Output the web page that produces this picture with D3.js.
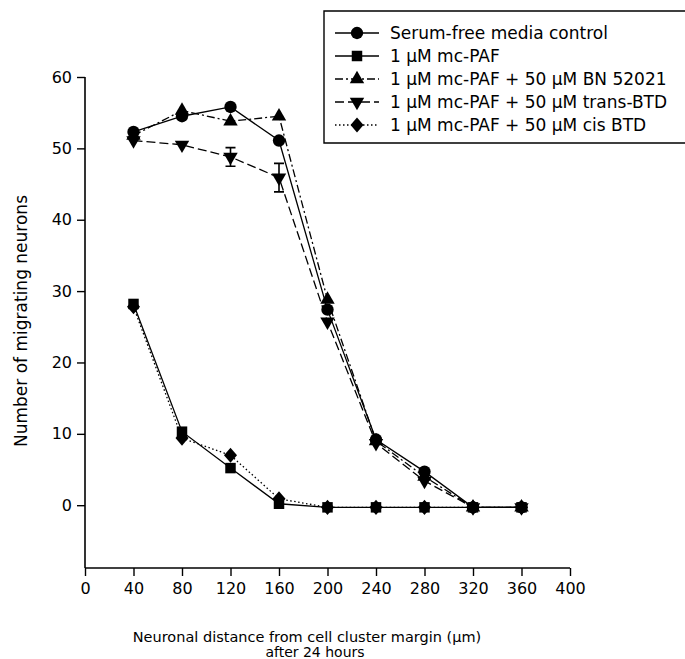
<!DOCTYPE html>
<html>
<head>
<meta charset="utf-8">
<script src="https://cdn.jsdelivr.net/npm/d3@7/dist/d3.min.js"></script>
<style>
  body { margin: 0; background: #fff; }
  svg { font-family: "DejaVu Sans", Arial, sans-serif; }
</style>
</head>
<body>
<div id="canvas"></div>
<script>
// distances (µm)
const distances = [40, 80, 120, 160, 200, 240, 280, 320, 360];
const xTicks = [0, 40, 80, 120, 160, 200, 240, 280, 320, 360, 400];
const yTicks = [0, 10, 20, 30, 40, 50, 60];

const seriesNames = [
  "Serum-free media control",
  "1 µM mc-PAF",
  "1 µM mc-PAF + 50 µM BN 52021",
  "1 µM mc-PAF + 50 µM trans-BTD",
  "1 µM mc-PAF + 50 µM cis BTD"
];
const control = [52.3, 54.5, 55.8, 51.1, 27.4, 9.2, 4.7, -0.3, -0.3];
const mcPaf = [28.2, 10.3, 5.2, 0.2, -0.3, -0.3, -0.3, -0.3, -0.3];
const bn52021 = [51.8, 55.3, 53.8, 54.5, 28.8, 9.0, 4.0, -0.3, -0.3];
const transBtd = [51.1, 50.5, 48.8, 45.9, 25.7, 8.7, 3.4, -0.3, -0.3];
const transErr = [0, 0, 1.3, 2.0, 0, 0, 0, 0, 0];
const cisBtd = [27.8, 9.4, 7.0, 0.9, -0.3, -0.3, -0.3, -0.3, -0.3];

const width = 685, height = 659;
const svg = d3.select("#canvas").append("svg")
  .attr("width", width).attr("height", height);

const x = d3.scaleLinear().domain([0, 400]).range([85, 570]);
const y = d3.scaleLinear().domain([-8.8, 60]).range([568, 77]);

// wider diamond than d3's default
const wideDiamond = {
  draw(ctx, size) {
    const w = Math.sqrt(size) * 0.62, h = Math.sqrt(size) * 0.72;
    ctx.moveTo(0, -h); ctx.lineTo(w, 0); ctx.lineTo(0, h); ctx.lineTo(-w, 0); ctx.closePath();
  }
};

const series = [
  { name: seriesNames[0], values: control, symbol: d3.symbolCircle, size: 120, dash: null },
  { name: seriesNames[1], values: mcPaf, symbol: d3.symbolSquare, size: 110, dash: null },
  { name: seriesNames[2], values: bn52021, symbol: d3.symbolTriangle, size: 90, dash: "8,3,2,3" },
  { name: seriesNames[3], values: transBtd, symbol: "down", size: 90, dash: "9,4" },
  { name: seriesNames[4], values: cisBtd, symbol: wideDiamond, size: 110, dash: "1.5,2.5" }
];

function marker(g, s) {
  if (s.symbol === "down") {
    g.append("path").attr("d", d3.symbol(d3.symbolTriangle, s.size)())
      .attr("transform", "rotate(180)").attr("fill", "#000");
  } else {
    g.append("path").attr("d", d3.symbol(s.symbol, s.size)()).attr("fill", "#000");
  }
}

// axes
const xAxis = svg.append("g").attr("transform", `translate(0,568)`)
  .call(d3.axisBottom(x).tickValues(xTicks).tickSize(8).tickPadding(7).tickFormat(d3.format("d")));
const yAxis = svg.append("g").attr("transform", `translate(85,0)`)
  .call(d3.axisLeft(y).tickValues(yTicks).tickSize(8).tickPadding(5).tickFormat(d3.format("d")));
[xAxis, yAxis].forEach(a => {
  a.select(".domain").attr("stroke", "#000").attr("stroke-width", 1.6)
    .attr("d", a === xAxis ? "M85,0H570" : "M0,77V568");
  a.selectAll(".tick line").attr("stroke", "#000").attr("stroke-width", 1.4);
  a.selectAll(".tick text").attr("fill", "#000").style("font-size", "16px")
    .style("font-family", "'DejaVu Sans', Arial, sans-serif");
});

// lines
const line = d3.line().x((d, i) => x(distances[i])).y(d => y(d));
series.forEach(s => {
  svg.append("path").datum(s.values)
    .attr("d", line).attr("fill", "none").attr("stroke", "#000")
    .attr("stroke-width", 1.3)
    .attr("stroke-dasharray", s.dash);
});

// error bars (trans-BTD)
distances.forEach((d, i) => {
  if (!transErr[i]) return;
  const cx = x(d), top = y(transBtd[i] + transErr[i]), bot = y(transBtd[i] - transErr[i]);
  svg.append("path").attr("d", `M${cx},${top}V${bot}M${cx - 5},${top}H${cx + 5}M${cx - 5},${bot}H${cx + 5}`)
    .attr("stroke", "#000").attr("stroke-width", 1.6).attr("fill", "none");
});

// markers
series.forEach(s => {
  s.values.forEach((v, i) => {
    const g = svg.append("g").attr("transform", `translate(${x(distances[i])},${y(v)})`);
    marker(g, s);
  });
});

// axis titles
svg.append("text").attr("transform", "translate(27,321) rotate(-90)")
  .attr("text-anchor", "middle").style("font-size", "17px").text("Number of migrating neurons");
svg.append("text").attr("x", 307).attr("y", 642).attr("text-anchor", "middle")
  .style("font-size", "14.5px").text("Neuronal distance from cell cluster margin (µm)");
svg.append("text").attr("x", 315).attr("y", 657).attr("text-anchor", "middle")
  .style("font-size", "14px").text("after 24 hours");

// legend
const legend = svg.append("g");
legend.append("path").attr("d", "M690,11H324V143H690")
  .attr("fill", "none").attr("stroke", "#000").attr("stroke-width", 1.4);
series.forEach((s, i) => {
  const ly = 33 + i * 23;
  legend.append("line").attr("x1", 335).attr("x2", 379).attr("y1", ly).attr("y2", ly)
    .attr("stroke", "#000").attr("stroke-width", 1.3).attr("stroke-dasharray", s.dash);
  const g = legend.append("g").attr("transform", `translate(357,${ly})`);
  marker(g, s);
  legend.append("text").attr("x", 390).attr("y", ly + 6)
    .style("font-size", "17px").text(s.name);
});
</script>
</body>
</html>
